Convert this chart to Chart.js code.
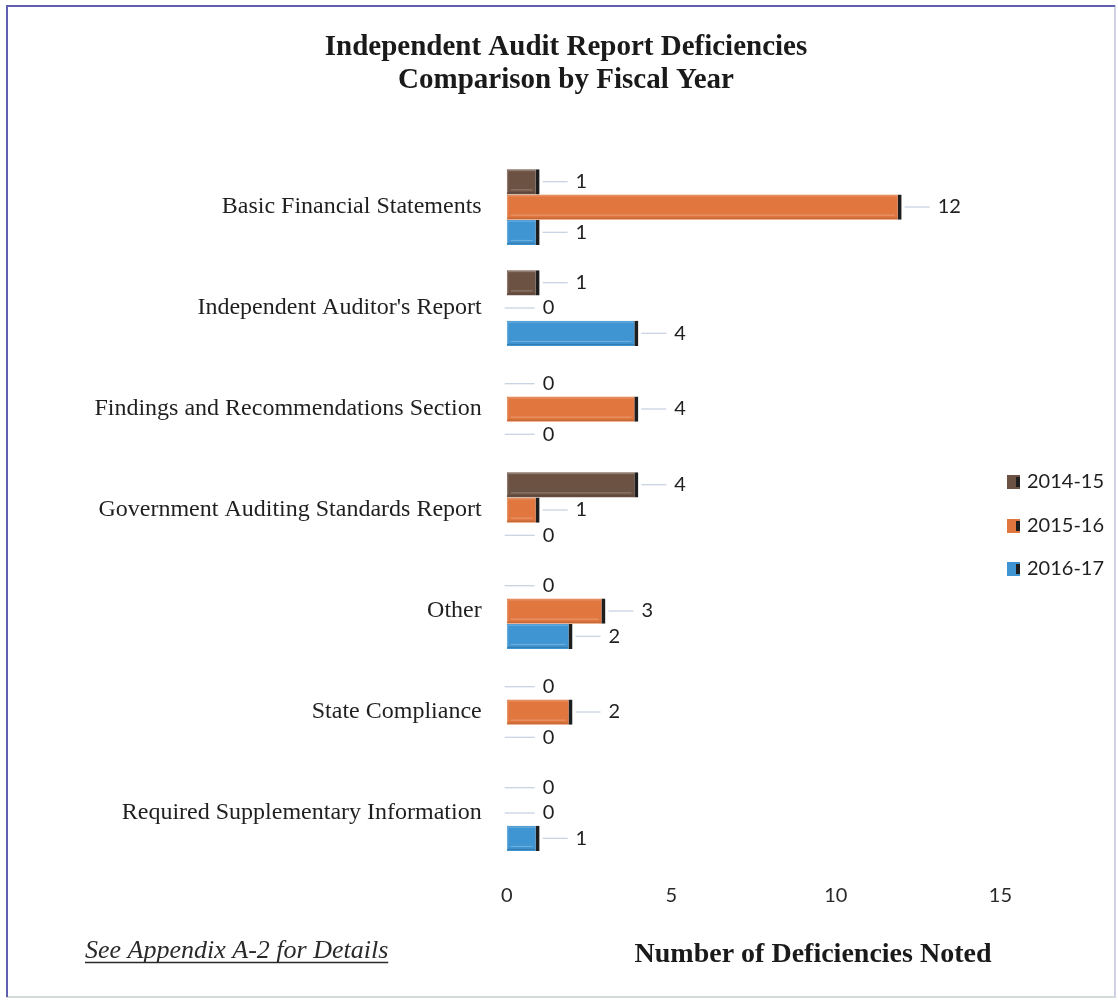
<!DOCTYPE html>
<html>
<head>
<meta charset="utf-8">
<script src="https://cdn.jsdelivr.net/npm/chart.js@4.4.0/dist/chart.umd.min.js"></script>
<style>
  html, body { margin: 0; padding: 0; background: #fff; }
</style>
</head>
<body>
<canvas id="audit-chart" width="1118" height="1001"></canvas>
<script>
// chart values
var categories = [
    'Basic Financial Statements',
    "Independent Auditor's Report",
    'Findings and Recommendations Section',
    'Government Auditing Standards Report',
    'Other',
    'State Compliance',
    'Required Supplementary Information'
];
var seriesNames = ['2014-15', '2015-16', '2016-17'];
var fy1415 = [1, 1, 0, 4, 0, 0, 0];
var fy1516 = [12, 0, 4, 1, 3, 2, 0];
var fy1617 = [1, 4, 0, 0, 2, 0, 1];
var xTickValues = [0, 5, 10, 15];

var chartTitle = ['Independent Audit Report Deficiencies', 'Comparison by Fiscal Year'];
var xAxisTitle = 'Number of Deficiencies Noted';
var footNote = 'See Appendix A-2 for Details';

var colors = ['#6c5243', '#e1773f', '#3f94d2'];
var edgeColor = '#1e1e1e';
var serif = '"Liberation Serif", "Times New Roman", serif';
var sans = 'Lato, "Open Sans", sans-serif';

var decor = {
    id: 'decor',
    beforeDraw: function(chart) {
        var c = chart.ctx;
        c.save();
        c.fillStyle = '#fff';
        c.fillRect(0, 0, chart.width, chart.height);
        // frame
        c.lineWidth = 2;
        c.strokeStyle = '#d4dcd8';
        c.strokeRect(7, 6, 1108, 991);
        c.strokeStyle = '#d0d0e6';
        c.beginPath(); c.moveTo(1115, 6); c.lineTo(1115, 997); c.stroke();
        c.strokeStyle = '#6060ae';
        c.beginPath(); c.moveTo(7, 997); c.lineTo(7, 6); c.lineTo(1115, 6); c.stroke();
        c.restore();
    },
    afterDatasetsDraw: function(chart) {
        var c = chart.ctx;
        c.save();
        chart.data.datasets.forEach(function(ds, di) {
            var meta = chart.getDatasetMeta(di);
            meta.data.forEach(function(bar, i) {
                var v = ds.data[i];
                var end = bar.x;
                var y = bar.y;
                // soft bevel on the bar face
                if (v > 0) {
                    var top = y - bar.height / 2, bot = y + bar.height / 2, left = bar.base;
                    c.lineWidth = 1;
                    c.strokeStyle = 'rgba(255,255,255,0.28)';
                    c.beginPath();
                    c.moveTo(left + 1, bot - 2); c.lineTo(left + 1, top + 1.5); c.lineTo(end - 4, top + 1.5);
                    c.moveTo(left + 4, bot - 4.5); c.lineTo(end - 7, bot - 4.5);
                    c.stroke();
                    c.strokeStyle = 'rgba(0,0,0,0.18)';
                    c.beginPath();
                    c.moveTo(left + 1, bot - 1.5); c.lineTo(end - 4, bot - 1.5);
                    c.stroke();
                }
                // leader line
                c.strokeStyle = '#b9c6da';
                c.lineWidth = 1;
                c.beginPath();
                c.moveTo(end + (v === 0 ? -2 : 3), y);
                c.lineTo(end + 28, y);
                c.stroke();
                c.fillStyle = '#1f1f1f';
                c.font = '20px ' + sans;
                c.textAlign = 'left';
                c.textBaseline = 'middle';
                c.fillText(String(v), end + 36, y);
            });
        });
        c.restore();
    },
    afterDraw: function(chart) {
        var c = chart.ctx;
        c.save();
        c.fillStyle = '#1a1a1a';
        c.textAlign = 'center';
        c.textBaseline = 'alphabetic';
        c.font = 'bold 29px ' + serif;
        c.fillText(chartTitle[0], 566, 55);
        c.fillText(chartTitle[1], 566, 88);

        c.font = 'bold 28px ' + serif;
        c.fillText(xAxisTitle, 813, 962);

        c.textAlign = 'left';
        c.font = 'italic 26px ' + serif;
        c.fillStyle = '#2a2a2a';
        c.fillText(footNote, 85, 958);
        var w = c.measureText(footNote).width;
        c.strokeStyle = '#2a2a2a';
        c.lineWidth = 1.3;
        c.beginPath(); c.moveTo(85, 962.5); c.lineTo(85 + w, 962.5); c.stroke();

        // legend
        var rows = [482, 526, 569];
        seriesNames.forEach(function(name, i) {
            var y = rows[i];
            c.fillStyle = colors[i];
            c.fillRect(1007, y - 7, 13, 14);
            c.fillStyle = edgeColor;
            c.fillRect(1016, y - 5, 4, 10);
            c.fillStyle = '#1f1f1f';
            c.font = '20px ' + sans;
            c.textBaseline = 'middle';
            c.fillText(name, 1027, y);
        });
        c.restore();
    }
};

var datasets = [fy1415, fy1516, fy1617].map(function(values, i) {
    return {
        label: seriesNames[i],
        data: values,
        backgroundColor: colors[i],
        borderColor: edgeColor,
        borderWidth: { top: 0, bottom: 0, left: 0, right: 4 },
        borderSkipped: false,
        categoryPercentage: 0.75,
        barPercentage: 1.0
    };
});

var ctx = document.getElementById('audit-chart').getContext('2d');
var chart = new Chart(ctx, {
    type: 'bar',
    data: {
        labels: categories,
        datasets: datasets
    },
    options: {
        indexAxis: 'y',
        responsive: false,
        animation: false,
        layout: {
            padding: { left: 0, right: 117.6, top: 156.5, bottom: 0 }
        },
        plugins: {
            legend: { display: false },
            title: { display: false },
            tooltip: { enabled: false }
        },
        scales: {
            x: {
                min: 0,
                max: 15,
                afterBuildTicks: function(scale) {
                    scale.ticks = xTickValues.map(function(v) { return { value: v }; });
                },
                grid: { display: false, drawTicks: false },
                border: { display: false },
                ticks: {
                    padding: 20,
                    color: '#2a2a2a',
                    font: { family: sans, size: 20 }
                },
                afterFit: function(scale) { scale.height = 137.5; }
            },
            y: {
                grid: { display: false, drawTicks: false },
                border: { display: false },
                ticks: {
                    padding: 25,
                    color: '#1f1f1f',
                    font: { family: serif, size: 24 }
                },
                afterFit: function(scale) { scale.width = 506.7; }
            }
        }
    },
    plugins: [decor]
});
</script>
</body>
</html>
